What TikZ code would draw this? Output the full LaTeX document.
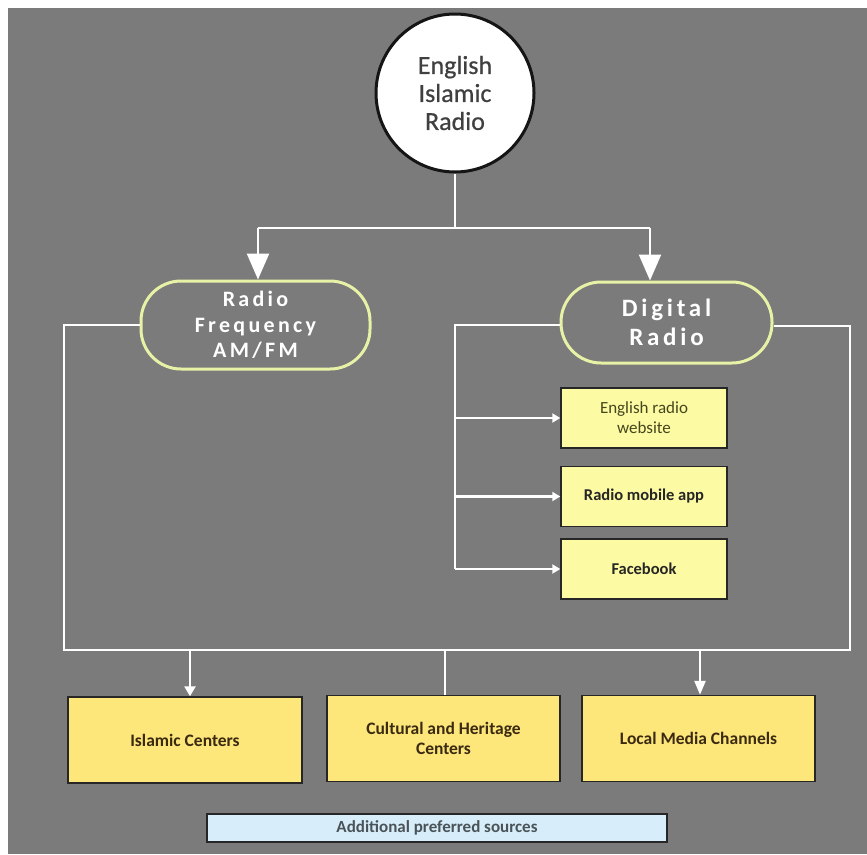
\documentclass[tikz,border=0pt]{standalone}
\usepackage{fontspec}
\setmainfont{Carlito}
\usetikzlibrary{arrows.meta,shapes.geometric}
\definecolor{bggray}{HTML}{7B7B7B}
\definecolor{stadline}{HTML}{E8F2A6}
\definecolor{lightyel}{HTML}{FCFAA2}
\definecolor{deepyel}{HTML}{FDE67A}
\definecolor{lightblue}{HTML}{D7EEFA}
\definecolor{olivetxt}{HTML}{45461E}
\definecolor{browntxt}{HTML}{3A2A12}
\definecolor{slatetxt}{HTML}{4A5358}
\definecolor{rootline}{HTML}{151515}
\definecolor{roottxt}{HTML}{404040}
\tikzset{
  conn/.style={draw=white, line width=2.4pt},
  bigarrow/.style={conn, -{Triangle[width=22pt,length=26pt]}},
  smallarrow/.style={conn, -{Triangle[width=9pt,length=8pt]}},
  rootnode/.style={circle, draw=rootline, line width=3pt, fill=white, minimum size=158pt, inner sep=0pt, align=center, font=\addfontfeature{FakeBold=0.6}\fontsize{26}{28}\selectfont, text=roottxt},
  stadium/.style={draw=stadline, line width=3pt, fill=bggray, rounded corners=40pt, align=center, text=white, inner sep=0pt},
  subbox/.style={draw=black!85, line width=1.4pt, fill=lightyel, minimum width=166pt, minimum height=60pt, inner sep=0pt, align=center, text=olivetxt, font=\fontsize{17}{20}\selectfont},
  bottombox/.style={draw=black!85, line width=1.4pt, fill=deepyel, minimum width=233pt, minimum height=86pt, inner sep=0pt, align=center, text=browntxt, font=\bfseries\fontsize{17.5}{20}\selectfont},
  notebox/.style={draw=black!85, line width=1.4pt, fill=lightblue, minimum width=460pt, minimum height=28pt, inner sep=0pt, align=center, text=slatetxt, font=\bfseries\fontsize{17}{18}\selectfont}
}
\begin{document}
\begin{tikzpicture}[x=1pt,y=-1pt]
\useasboundingbox (0,0) rectangle (867,854);
\fill[white] (0,0) rectangle (867,854);
\fill[bggray] (8,8) rectangle (867,854);

\node[rootnode] (root) at (455,93) {English\\Islamic\\Radio};

\node[stadium, minimum width=229pt, minimum height=88pt, font=\bfseries\addfontfeature{LetterSpace=15}\fontsize{22}{25.5}\selectfont] (rf) at (255.5,325) {Radio\\Frequency\\AM/FM};
\node[stadium, minimum width=211pt, minimum height=81pt, font=\bfseries\addfontfeature{LetterSpace=15}\fontsize{25}{29}\selectfont] (dr) at (666.5,322.5) {Digital\\Radio};

\node[subbox] (web) at (644,418) {English radio\\website};
\node[subbox, font=\bfseries\fontsize{16.5}{20}\selectfont, text=black!85] (app) at (644,496.5) {Radio mobile app};
\node[subbox, font=\bfseries\fontsize{16.5}{20}\selectfont, text=black!85] (fb) at (644,569) {Facebook};

\node[bottombox, minimum width=234pt] (isl) at (185,740) {Islamic Centers};
\node[bottombox] (cul) at (443.5,738.5) {Cultural and Heritage\\Centers};
\node[bottombox] (loc) at (698.5,738.5) {Local Media Channels};

\node[notebox] (add) at (437,828) {Additional preferred sources};

% root to the two branches
\coordinate (split) at (455,228);
\coordinate (splitL) at (258,228);
\coordinate (splitR) at (650,228);
\draw[conn] (root.south) -- (split);
\draw[conn] (splitL) -- (splitR);
\draw[bigarrow] (splitL) -- (splitL |- rf.north);
\draw[bigarrow] (splitR) -- (splitR |- dr.north);

% digital radio fan-out
\coordinate (dtop) at (455,325);
\coordinate (dbot) at (455,569);
\draw[conn] (dr.west |- dtop) -- (dtop) -- (dbot);
\draw[smallarrow] (dtop |- web.west) -- (web.west);
\draw[smallarrow] (dtop |- app.west) -- (app.west);
\draw[smallarrow] (dbot) -- (fb.west);

% outer loop
\coordinate (lcorner) at (64,325);
\coordinate (lbot) at (64,650);
\coordinate (rbot) at (850,650);
\coordinate (rcorner) at (850,326);
\draw[conn] (rf.west) -- (lcorner) -- (lbot) -- (rbot) -- (rcorner) -- (dr.east |- rcorner);

% drops to bottom boxes
\coordinate (d1) at (190,650);
\coordinate (d2) at (445,650);
\coordinate (d3) at (700,650);
\draw[conn, -{Triangle[width=11pt,length=10pt]}] (d1) -- (d1 |- isl.north);
\draw[conn] (d2) -- (d2 |- cul.north);
\draw[conn, -{Triangle[width=11pt,length=14pt]}] (d3) -- (d3 |- loc.north);
\end{tikzpicture}
\end{document}
